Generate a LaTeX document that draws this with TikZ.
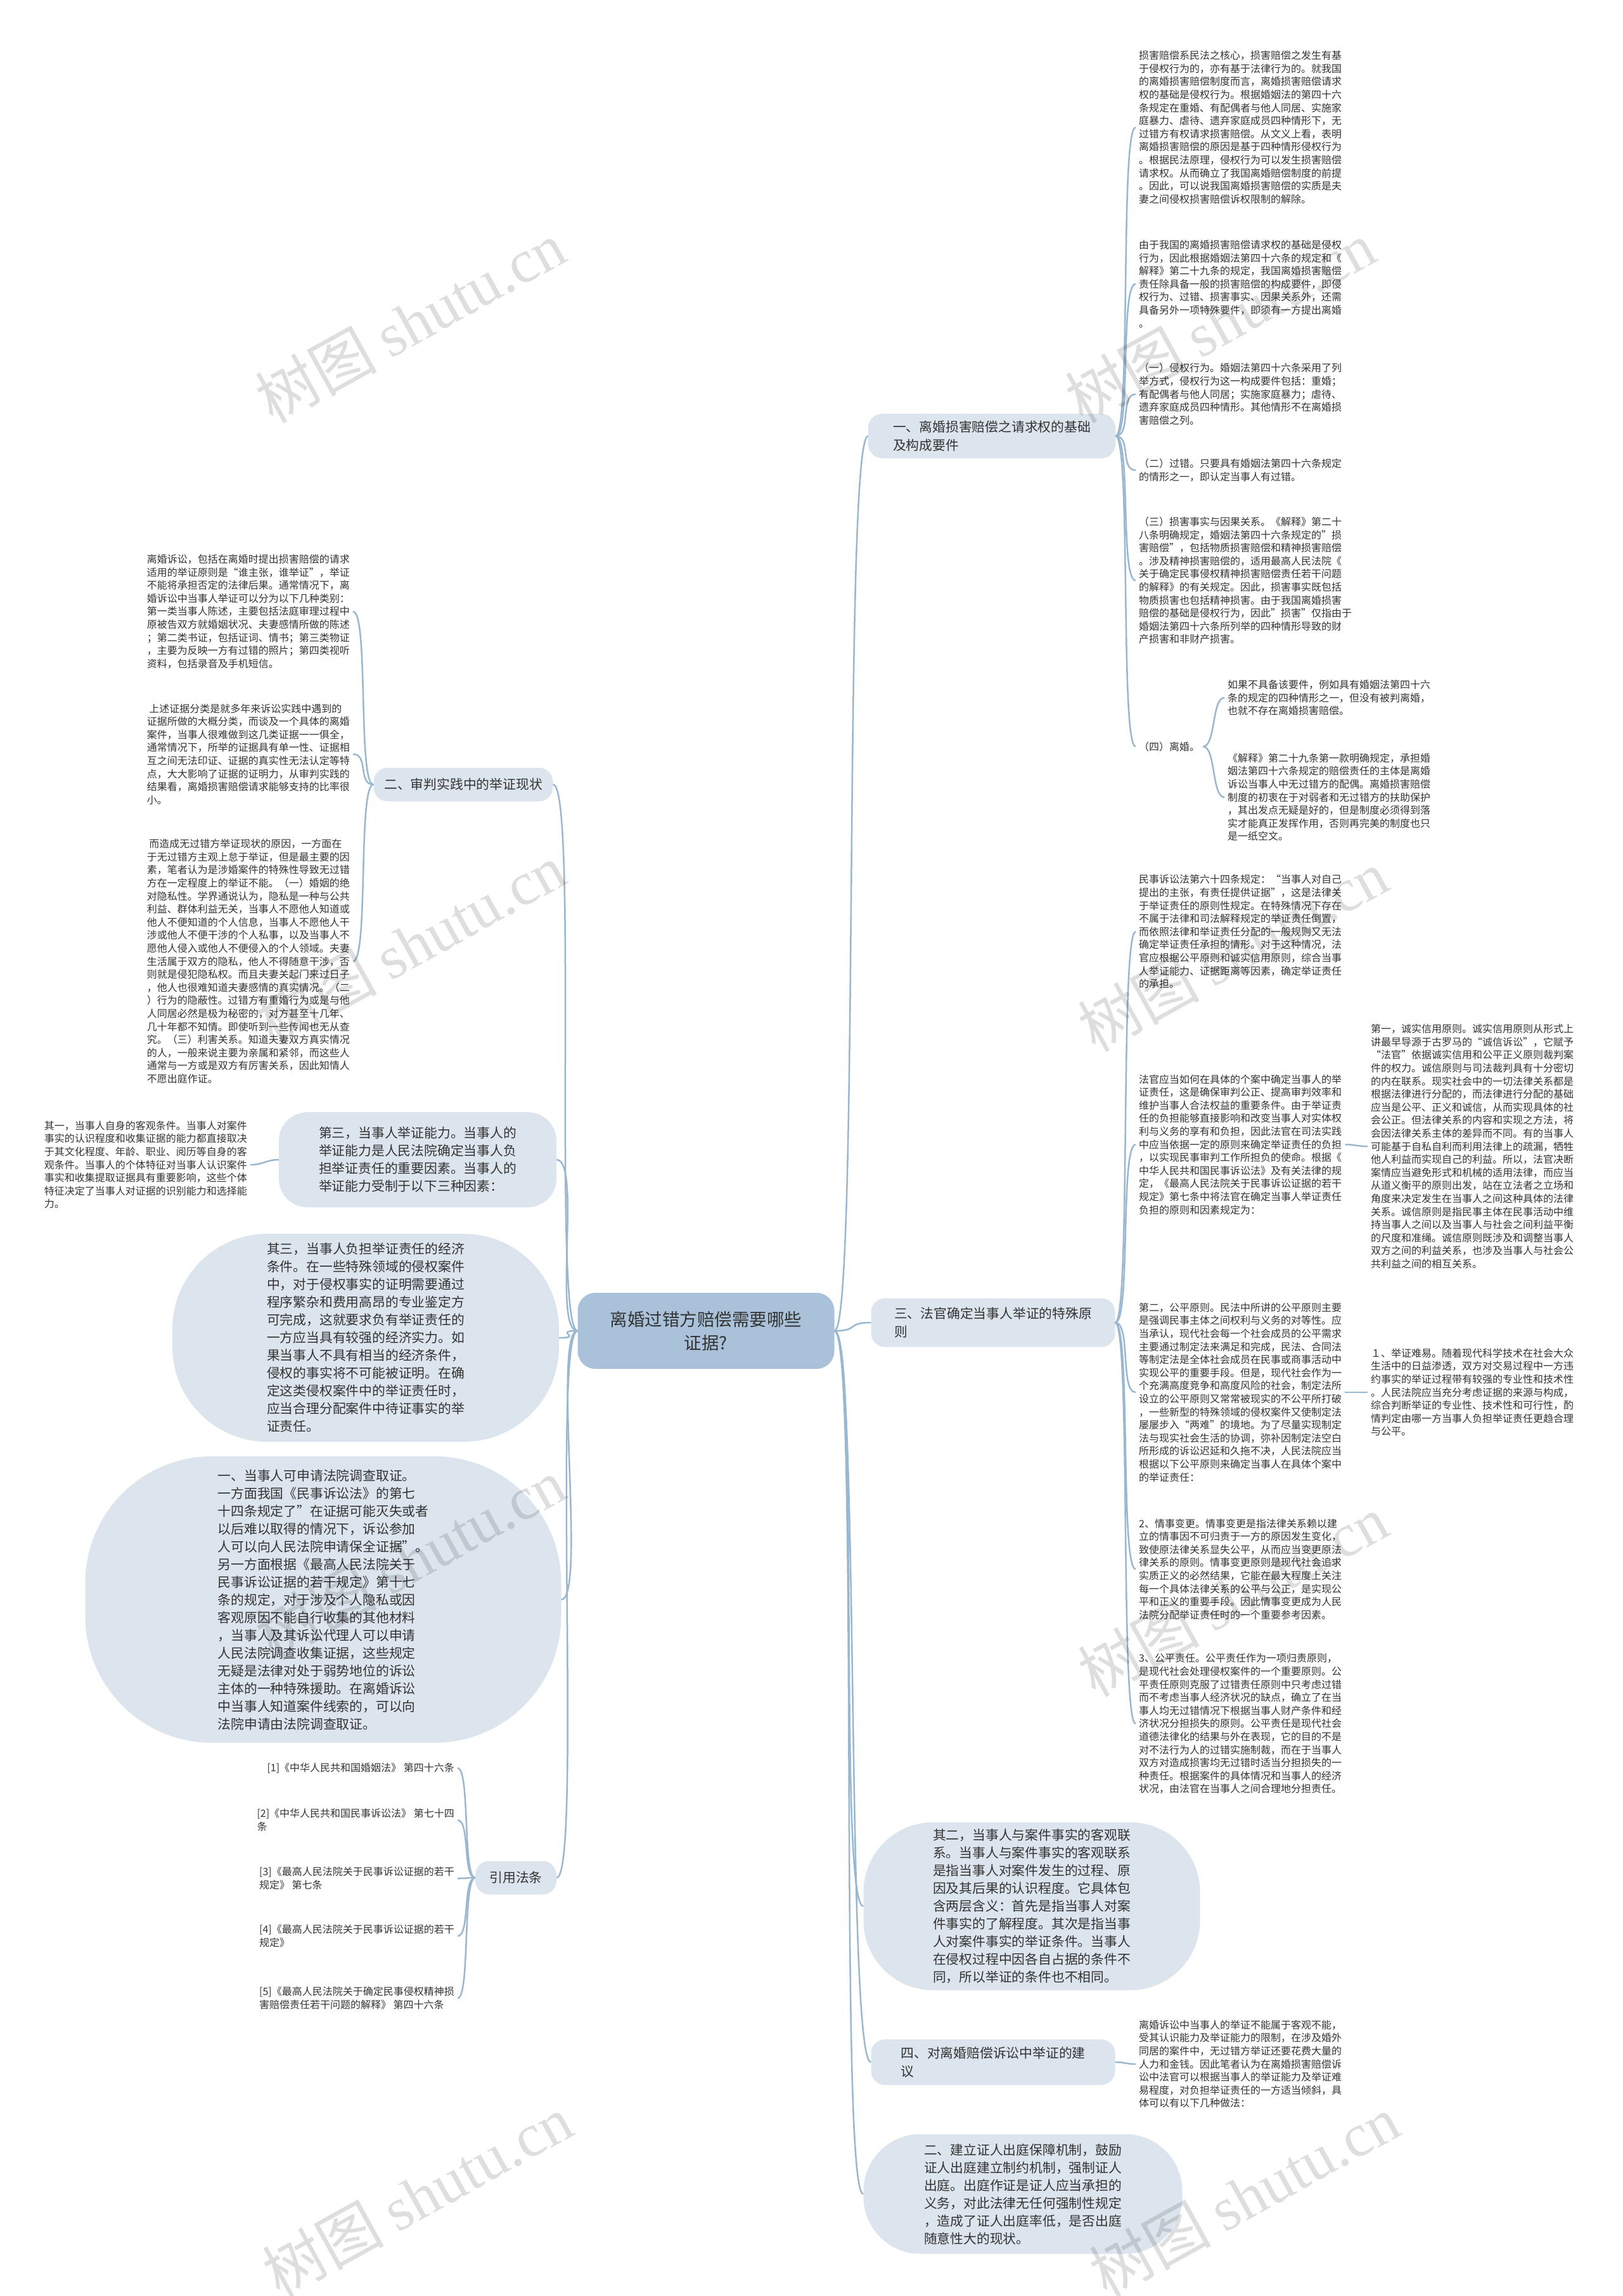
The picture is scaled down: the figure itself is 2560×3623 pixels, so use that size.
\documentclass[tikz,border=0pt]{standalone}
\usepackage{fontspec}
\setmainfont{Noto Sans CJK SC}
\newfontfamily\filigrane{Liberation Serif}
\definecolor{lienc}{HTML}{9AB7D0}
\definecolor{bulle}{HTML}{DCE5EE}
\definecolor{centrec}{HTML}{A9C2DA}
\definecolor{txt}{HTML}{333333}
\begin{document}
\begin{tikzpicture}[x=1pt,y=-1pt,
    lien/.style={draw=lienc, line width=2.5pt},
    texte/.style={font=\fontsize{16}{20.6}\selectfont, align=left, inner sep=5pt, text=txt},
    branche/.style={fill=bulle, rounded corners=22pt, font=\fontsize{20.8}{29}\selectfont, align=left, text=txt, inner sep=0pt},
    bullebox/.style={fill=bulle, font=\fontsize{20.8}{28}\selectfont, align=left, text=txt, inner sep=0pt},
    marque/.style={text=black, text opacity=0.13, font=\fontsize{96}{96}\selectfont, rotate=29}]
    \useasboundingbox (0,0) rectangle (2560,3623);
    \fill[white] (0,0) rectangle (2560,3623);

    % Noeud central
    \node[fill=centrec, rounded corners=28pt, minimum width=405pt, minimum height=120pt,
          font=\fontsize{27.5}{37}\selectfont, align=center, text=txt] (centre) at (1114,2100)
          {离婚过错方赔偿需要哪些\\证据?};

    % Branches principales
    \node[branche, minimum width=390pt, minimum height=70pt] (b1) at (1565,688)
          {一、离婚损害赔偿之请求权的基础\\及构成要件};
    \node[branche, minimum width=283pt, minimum height=53pt] (b2) at (731,1238)
          {二、审判实践中的举证现状};
    \node[branche, minimum width=385pt, minimum height=77pt] (b3) at (1567,2087)
          {三、法官确定当事人举证的特殊原\\则};
    \node[branche, minimum width=385pt, minimum height=72pt] (b4) at (1567,3254)
          {四、对离婚赔偿诉讼中举证的建\\议};
    \node[branche, minimum width=128pt, minimum height=53pt] (b5) at (814,2963)
          {引用法条};

    % Bulles
    \node[bullebox, rounded corners=45pt, minimum width=438pt, minimum height=150pt] (q3) at (659,1830)
          {第三，当事人举证能力。当事人的\\举证能力是人民法院确定当事人负\\担举证责任的重要因素。当事人的\\举证能力受制于以下三种因素：};
    \node[bullebox, rounded corners=150pt, minimum width=610pt, minimum height=328pt] (qs) at (577,2111)
          {其三，当事人负担举证责任的经济\\条件。在一些特殊领域的侵权案件\\中，对于侵权事实的证明需要通过\\程序繁杂和费用高昂的专业鉴定方\\可完成，这就要求负有举证责任的\\一方应当具有较强的经济实力。如\\果当事人不具有相当的经济条件，\\侵权的事实将不可能被证明。在确\\定这类侵权案件中的举证责任时，\\应当合理分配案件中待证事实的举\\证责任。};
    \node[bullebox, rounded corners=200pt, minimum width=751pt, minimum height=452pt] (s1) at (510,2524)
          {一、当事人可申请法院调查取证。\\一方面我国《民事诉讼法》的第七\\十四条规定了"在证据可能灭失或者\\以后难以取得的情况下，诉讼参加\\人可以向人民法院申请保全证据"。\\另一方面根据《最高人民法院关于\\民事诉讼证据的若干规定》第十七\\条的规定，对于涉及个人隐私或因\\客观原因不能自行收集的其他材料\\，当事人及其诉讼代理人可以申请\\人民法院调查收集证据，这些规定\\无疑是法律对处于弱势地位的诉讼\\主体的一种特殊援助。在离婚诉讼\\中当事人知道案件线索的，可以向\\法院申请由法院调查取证。};
    \node[bullebox, rounded corners=110pt, minimum width=531pt, minimum height=265pt] (q2) at (1628,3008)
          {其二，当事人与案件事实的客观联\\系。当事人与案件事实的客观联系\\是指当事人对案件发生的过程、原\\因及其后果的认识程度。它具体包\\含两层含义：首先是指当事人对案\\件事实的了解程度。其次是指当事\\人对案件事实的举证条件。当事人\\在侵权过程中因各自占据的条件不\\同，所以举证的条件也不相同。};
    \node[bullebox, rounded corners=90pt, minimum width=503pt, minimum height=189pt] (s2) at (1614,3462)
          {二、建立证人出庭保障机制，鼓励\\证人出庭建立制约机制，强制证人\\出庭。出庭作证是证人应当承担的\\义务，对此法律无任何强制性规定\\，造成了证人出庭率低，是否出庭\\随意性大的现状。};

    % Textes de la branche un
    \node[texte, anchor=west] (c1) at (1792,201)
          {损害赔偿系民法之核心，损害赔偿之发生有基\\于侵权行为的，亦有基于法律行为的。就我国\\的离婚损害赔偿制度而言，离婚损害赔偿请求\\权的基础是侵权行为。根据婚姻法的第四十六\\条规定在重婚、有配偶者与他人同居、实施家\\庭暴力、虐待、遗弃家庭成员四种情形下，无\\过错方有权请求损害赔偿。从文义上看，表明\\离婚损害赔偿的原因是基于四种情形侵权行为\\。根据民法原理，侵权行为可以发生损害赔偿\\请求权。从而确立了我国离婚赔偿制度的前提\\。因此，可以说我国离婚损害赔偿的实质是夫\\妻之间侵权损害赔偿诉权限制的解除。};
    \node[texte, anchor=west] (c2) at (1792,448)
          {由于我国的离婚损害赔偿请求权的基础是侵权\\行为，因此根据婚姻法第四十六条的规定和《\\解释》第二十九条的规定，我国离婚损害赔偿\\责任除具备一般的损害赔偿的构成要件，即侵\\权行为、过错、损害事实、因果关系外，还需\\具备另外一项特殊要件，即须有一方提出离婚\\。};
    \node[texte, anchor=west] (c3) at (1792,622)
          {（一）侵权行为。婚姻法第四十六条采用了列\\举方式，侵权行为这一构成要件包括：重婚；\\有配偶者与他人同居；实施家庭暴力；虐待、\\遗弃家庭成员四种情形。其他情形不在离婚损\\害赔偿之列。};
    \node[texte, anchor=west] (c4) at (1792,742)
          {（二）过错。只要具有婚姻法第四十六条规定\\的情形之一，即认定当事人有过错。};
    \node[texte, anchor=west] (c5) at (1792,916)
          {（三）损害事实与因果关系。《解释》第二十\\八条明确规定，婚姻法第四十六条规定的"损\\害赔偿"，包括物质损害赔偿和精神损害赔偿\\。涉及精神损害赔偿的，适用最高人民法院《\\关于确定民事侵权精神损害赔偿责任若干问题\\的解释》的有关规定。因此，损害事实既包括\\物质损害也包括精神损害。由于我国离婚损害\\赔偿的基础是侵权行为，因此"损害"仅指由于\\婚姻法第四十六条所列举的四种情形导致的财\\产损害和非财产损害。};
    \node[texte, anchor=west] (c6) at (1792,1178) {（四）离婚。};
    \node[texte, anchor=west] (c6a) at (1932,1101)
          {如果不具备该要件，例如具有婚姻法第四十六\\条的规定的四种情形之一，但没有被判离婚，\\也就不存在离婚损害赔偿。};
    \node[texte, anchor=west] (c6b) at (1932,1258)
          {《解释》第二十九条第一款明确规定，承担婚\\姻法第四十六条规定的赔偿责任的主体是离婚\\诉讼当事人中无过错方的配偶。离婚损害赔偿\\制度的初衷在于对弱者和无过错方的扶助保护\\，其出发点无疑是好的，但是制度必须得到落\\实才能真正发挥作用，否则再完美的制度也只\\是一纸空文。};

    % Textes de la branche trois
    \node[texte, anchor=west] (d1) at (1792,1470)
          {民事诉讼法第六十四条规定：“当事人对自己\\提出的主张，有责任提供证据”，这是法律关\\于举证责任的原则性规定。在特殊情况下存在\\不属于法律和司法解释规定的举证责任倒置，\\而依照法律和举证责任分配的一般规则又无法\\确定举证责任承担的情形。对于这种情况，法\\官应根据公平原则和诚实信用原则，综合当事\\人举证能力、证据距离等因素，确定举证责任\\的承担。};
    \node[texte, anchor=west] (d2) at (1792,1806)
          {法官应当如何在具体的个案中确定当事人的举\\证责任，这是确保审判公正、提高审判效率和\\维护当事人合法权益的重要条件。由于举证责\\任的负担能够直接影响和改变当事人对实体权\\利与义务的享有和负担，因此法官在司法实践\\中应当依据一定的原则来确定举证责任的负担\\，以实现民事审判工作所担负的使命。根据《\\中华人民共和国民事诉讼法》及有关法律的规\\定，《最高人民法院关于民事诉讼证据的若干\\规定》第七条中将法官在确定当事人举证责任\\负担的原则和因素规定为：};
    \node[texte, anchor=west] (d2a) at (2158,1809)
          {第一，诚实信用原则。诚实信用原则从形式上\\讲最早导源于古罗马的“诚信诉讼”，它赋予\\“法官”依据诚实信用和公平正义原则裁判案\\件的权力。诚信原则与司法裁判具有十分密切\\的内在联系。现实社会中的一切法律关系都是\\根据法律进行分配的，而法律进行分配的基础\\应当是公平、正义和诚信，从而实现具体的社\\会公正。但法律关系的内容和实现之方法，将\\会因法律关系主体的差异而不同。有的当事人\\可能基于自私自利而利用法律上的疏漏，牺牲\\他人利益而实现自己的利益。所以，法官决断\\案情应当避免形式和机械的适用法律，而应当\\从道义衡平的原则出发，站在立法者之立场和\\角度来决定发生在当事人之间这种具体的法律\\关系。诚信原则是指民事主体在民事活动中维\\持当事人之间以及当事人与社会之间利益平衡\\的尺度和准绳。诚信原则既涉及和调整当事人\\双方之间的利益关系，也涉及当事人与社会公\\共利益之间的相互关系。};
    \node[texte, anchor=west] (d3) at (1792,2197)
          {第二，公平原则。民法中所讲的公平原则主要\\是强调民事主体之间权利与义务的对等性。应\\当承认，现代社会每一个社会成员的公平需求\\主要通过制定法来满足和完成，民法、合同法\\等制定法是全体社会成员在民事或商事活动中\\实现公平的重要手段。但是，现代社会作为一\\个充满高度竞争和高度风险的社会，制定法所\\设立的公平原则又常常被现实的不公平所打破\\，一些新型的特殊领域的侵权案件又使制定法\\屡屡步入“两难”的境地。为了尽量实现制定\\法与现实社会生活的协调，弥补因制定法空白\\所形成的诉讼迟延和久拖不决，人民法院应当\\根据以下公平原则来确定当事人在具体个案中\\的举证责任：};
    \node[texte, anchor=west] (d3a) at (2158,2197)
          {１、举证难易。随着现代科学技术在社会大众\\生活中的日益渗透，双方对交易过程中一方违\\约事实的举证过程带有较强的专业性和技术性\\。人民法院应当充分考虑证据的来源与构成，\\综合判断举证的专业性、技术性和可行性，酌\\情判定由哪一方当事人负担举证责任更趋合理\\与公平。};
    \node[texte, anchor=west] (d4) at (1792,2476)
          {2、情事变更。情事变更是指法律关系赖以建\\立的情事因不可归责于一方的原因发生变化，\\致使原法律关系显失公平，从而应当变更原法\\律关系的原则。情事变更原则是现代社会追求\\实质正义的必然结果，它能在最大程度上关注\\每一个具体法律关系的公平与公正，是实现公\\平和正义的重要手段。因此情事变更成为人民\\法院分配举证责任时的一个重要参考因素。};
    \node[texte, anchor=west] (d5) at (1792,2720)
          {3、公平责任。公平责任作为一项归责原则，\\是现代社会处理侵权案件的一个重要原则。公\\平责任原则克服了过错责任原则中只考虑过错\\而不考虑当事人经济状况的缺点，确立了在当\\事人均无过错情况下根据当事人财产条件和经\\济状况分担损失的原则。公平责任是现代社会\\道德法律化的结果与外在表现，它的目的不是\\对不法行为人的过错实施制裁，而在于当事人\\双方对造成损害均无过错时适当分担损失的一\\种责任。根据案件的具体情况和当事人的经济\\状况，由法官在当事人之间合理地分担责任。};

    % Texte de la branche quatre
    \node[texte, anchor=west] (f1) at (1792,3257)
          {离婚诉讼中当事人的举证不能属于客观不能，\\受其认识能力及举证能力的限制，在涉及婚外\\同居的案件中，无过错方举证还要花费大量的\\人力和金钱。因此笔者认为在离婚损害赔偿诉\\讼中法官可以根据当事人的举证能力及举证难\\易程度，对负担举证责任的一方适当倾斜，具\\体可以有以下几种做法：};

    % Textes de la branche deux
    \node[texte, anchor=east] (e1) at (557,965)
          {离婚诉讼，包括在离婚时提出损害赔偿的请求\\适用的举证原则是“谁主张，谁举证”，举证\\不能将承担否定的法律后果。通常情况下，离\\婚诉讼中当事人举证可以分为以下几种类别：\\第一类当事人陈述，主要包括法庭审理过程中\\原被告双方就婚姻状况、夫妻感情所做的陈述\\；第二类书证，包括证词、情书；第三类物证\\，主要为反映一方有过错的照片；第四类视听\\资料，包括录音及手机短信。};
    \node[texte, anchor=east] (e2) at (557,1190)
          {\ 上述证据分类是就多年来诉讼实践中遇到的\\证据所做的大概分类，而谈及一个具体的离婚\\案件，当事人很难做到这几类证据一一俱全，\\通常情况下，所举的证据具有单一性、证据相\\互之间无法印证、证据的真实性无法认定等特\\点，大大影响了证据的证明力，从审判实践的\\结果看，离婚损害赔偿请求能够支持的比率很\\小。};
    \node[texte, anchor=east] (e3) at (557,1517)
          {\ 而造成无过错方举证现状的原因，一方面在\\于无过错方主观上怠于举证，但是最主要的因\\素，笔者认为是涉婚案件的特殊性导致无过错\\方在一定程度上的举证不能。（一）婚姻的绝\\对隐私性。学界通说认为，隐私是一种与公共\\利益、群体利益无关，当事人不愿他人知道或\\他人不便知道的个人信息，当事人不愿他人干\\涉或他人不便干涉的个人私事，以及当事人不\\愿他人侵入或他人不便侵入的个人领域。夫妻\\生活属于双方的隐私，他人不得随意干涉，否\\则就是侵犯隐私权。而且夫妻关起门来过日子\\，他人也很难知道夫妻感情的真实情况。（二\\）行为的隐蔽性。过错方有重婚行为或是与他\\人同居必然是极为秘密的，对方甚至十几年、\\几十年都不知情。即使听到一些传闻也无从查\\究。（三）利害关系。知道夫妻双方真实情况\\的人，一般来说主要为亲属和紧邻，而这些人\\通常与一方或是双方有厉害关系，因此知情人\\不愿出庭作证。};
    \node[texte, anchor=east] (q1) at (395,1838)
          {其一，当事人自身的客观条件。当事人对案件\\事实的认识程度和收集证据的能力都直接取决\\于其文化程度、年龄、职业、阅历等自身的客\\观条件。当事人的个体特征对当事人认识案件\\事实和收集提取证据具有重要影响，这些个体\\特征决定了当事人对证据的识别能力和选择能\\力。};

    % Lois citees
    \node[texte, anchor=east] (r1) at (722,2790) {[1]《中华人民共和国婚姻法》 第四十六条};
    \node[texte, anchor=east] (r2) at (722,2872) {[2]《中华人民共和国民事诉讼法》 第七十四\\条};
    \node[texte, anchor=east] (r3) at (722,2964) {[3]《最高人民法院关于民事诉讼证据的若干\\规定》 第七条};
    \node[texte, anchor=east] (r4) at (722,3055) {[4]《最高人民法院关于民事诉讼证据的若干\\规定》};
    \node[texte, anchor=east] (r5) at (722,3153) {[5]《最高人民法院关于确定民事侵权精神损\\害赔偿责任若干问题的解释》 第四十六条};

    % Liens du centre
    \foreach \b in {b1,b3,q2,b4,s2}
        \draw[lien] (centre.east) .. controls +(40,0) and +(-40,0) .. (\b.west);
    \foreach \b in {b2,q3,qs,s1,b5}
        \draw[lien] (centre.west) .. controls +(-40,0) and +(40,0) .. (\b.east);

    % Liens des branches
    \foreach \c in {c1,c2,c3,c4,c5,c6}
        \draw[lien] (b1.east) .. controls +(25,0) and +(-25,0) .. (\c.west);
    \foreach \c in {c6a,c6b}
        \draw[lien] (c6.east) .. controls +(20,0) and +(-20,0) .. (\c.west);
    \foreach \c in {d1,d2,d3,d4,d5}
        \draw[lien] (b3.east) .. controls +(25,0) and +(-25,0) .. (\c.west);
    \draw[lien] (d2.east) .. controls +(15,0) and +(-15,0) .. (d2a.west);
    \draw[lien] (d3.east) .. controls +(15,0) and +(-15,0) .. (d3a.west);
    \draw[lien] (b4.east) .. controls +(15,0) and +(-15,0) .. (f1.west);
    \foreach \e in {e1,e2,e3}
        \draw[lien] (b2.west) .. controls +(-25,0) and +(25,0) .. (\e.east);
    \draw[lien] (q3.west) .. controls +(-20,0) and +(20,0) .. (q1.east);
    \foreach \r in {r1,r2,r3,r4,r5}
        \draw[lien] (b5.west) .. controls +(-20,0) and +(20,0) .. (\r.east);

    % Filigranes
    \foreach \x/\y in {647/508, 1925/508, 647/1490, 1945/1500, 647/2460, 1945/2518, 658/3465, 1963/3465}
        \node[marque] at (\x,\y) {树图 {\filigrane shutu.cn}};
\end{tikzpicture}
\end{document}
